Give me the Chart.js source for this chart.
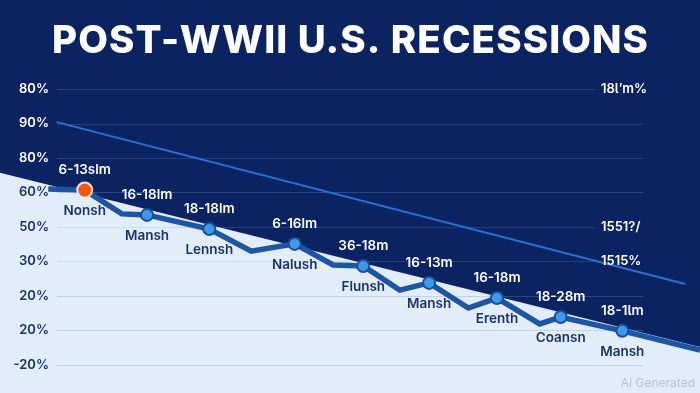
<!DOCTYPE html>
<html>
<head>
<meta charset="utf-8">
<script src="https://cdn.jsdelivr.net/npm/chart.js@4.4.1/dist/chart.umd.min.js"></script>
<style>
  html, body { margin: 0; padding: 0; background: #0b2562; }
  #wrap { position: relative; width: 700px; height: 393px; }
</style>
</head>
<body>
<div id="wrap"><canvas id="c" width="700" height="393"></canvas></div>
<script>
// ---- data ----
const titleText = 'POST-WWII U.S. RECESSIONS';
const yTickValues = [80, 70, 60, 50, 40, 30, 20, 10, 0];
const yTickLabels = ['80%', '90%', '80%', '60%', '50%', '30%', '20%', '20%', '-20%'];
const rightTickValues = [80, 40, 30];
const rightTickLabels = ['18Ɩ\u02BCm%', '1551?/', '1515%'];

const categories = ['Nonsh', 'Mansh', 'Lennsh', 'Nalush', 'Flunsh', 'Mansh', 'Erenth', 'Coansn', 'Mansh'];
const topLabels = ['6-13slm', '16-18lm', '18-18lm', '6-16lm', '36-18m', '16-13m', '16-18m', '18-28m', '18-1Ɩm'];
const markerX = [12.1, 21.0, 29.9, 42.1, 51.9, 61.3, 71.0, 80.1, 88.9];
const markerY = [50.7, 43.5, 39.4, 35.1, 28.7, 23.8, 19.4, 13.9, 9.9];

const pathX = [6.9, 12.1, 17.4, 21.0, 29.9, 35.9, 42.1, 47.6, 51.9, 57.1, 61.3, 66.9, 71.0, 77.1, 80.1, 88.9, 100];
const pathY = [51.0, 50.7, 43.8, 43.5, 39.4, 33.0, 35.1, 29.0, 28.7, 21.7, 23.8, 16.5, 19.4, 11.9, 13.9, 9.9, 4.3];

const trendX = [8.1, 97.9];
const trendY = [70.4, 23.5];

const areaX = [0, 100];
const areaY = [55.7, 5.2];

const gridFrom = 8.1, gridTo = 91.9, gridToShort = 85.0;

const zip = (xs, ys) => xs.map((x, i) => ({ x, y: ys[i] }));

const COLORS = {
  bg: '#0b2461',
  light: '#e3ecf9',
  line: '#1d55a3',
  trend: '#2b6fd6',
  marker: '#3d9ae8',
  red: '#f25a12',
  darkText: '#1a3466',
  white: '#ffffff'
};

const overlay = {
  id: 'overlay',
  beforeDraw(chart) {
    const { ctx, width, height } = chart;
    ctx.save();
    ctx.fillStyle = COLORS.bg;
    ctx.fillRect(0, 0, width, height);
    ctx.restore();
  },
  afterDatasetDraw(chart, args) {
    if (args.index !== 0) return;
    const { ctx, scales: { x, y } } = chart;
    ctx.save();
    ctx.lineWidth = 1;
    yTickValues.forEach(v => {
      const py = Math.round(y.getPixelForValue(v)) + 0.5;
      const end = rightTickValues.includes(v) ? gridToShort : gridTo;
      ctx.strokeStyle = v >= 60 || (v >= 30 && v <= 40) ? 'rgba(120,160,220,0.22)' : 'rgba(110,150,210,0.3)';
      ctx.beginPath();
      ctx.moveTo(x.getPixelForValue(gridFrom), py);
      ctx.lineTo(x.getPixelForValue(end), py);
      ctx.stroke();
    });
    ctx.restore();
  },
  afterDraw(chart) {
    const { ctx, scales: { x, y } } = chart;
    ctx.save();
    // title
    const size = 38.5;
    ctx.font = `800 ${size}px Inter`;
    const w = ctx.measureText(titleText).width;
    const spacing = Math.max(0, (596 - w) / (titleText.length - 1));
    if ('letterSpacing' in ctx) ctx.letterSpacing = spacing + 'px';
    ctx.fillStyle = COLORS.white;
    ctx.textAlign = 'left';
    ctx.textBaseline = 'alphabetic';
    ctx.fillText(titleText, 52, 53);
    if ('letterSpacing' in ctx) ctx.letterSpacing = '0px';

    // left ticks
    ctx.font = '600 13px Inter';
    ctx.textAlign = 'right';
    ctx.textBaseline = 'middle';
    yTickValues.forEach((v, i) => {
      ctx.fillStyle = v >= 60 ? COLORS.white : COLORS.darkText;
      ctx.fillText(yTickLabels[i], 49, y.getPixelForValue(v));
    });
    // right ticks
    ctx.textAlign = 'left';
    ctx.fillStyle = COLORS.white;
    rightTickValues.forEach((v, i) => {
      ctx.fillText(rightTickLabels[i], 601, y.getPixelForValue(v));
    });

    // point labels
    ctx.textAlign = 'center';
    ctx.font = '600 13.5px Inter';
    markerX.forEach((mx, i) => {
      const px = x.getPixelForValue(mx);
      const py = y.getPixelForValue(markerY[i]);
      ctx.fillStyle = COLORS.white;
      ctx.fillText(topLabels[i], px, py - 20);
      ctx.fillStyle = COLORS.darkText;
      ctx.fillText(categories[i], px, py + 21);
    });

    // watermark
    ctx.font = '400 12px Inter';
    ctx.textAlign = 'right';
    ctx.fillStyle = '#b7c2d2';
    ctx.fillText('AI Generated', 695, 383);
    ctx.restore();
  }
};

new Chart(document.getElementById('c'), {
  type: 'line',
  data: {
    datasets: [
      {
        data: zip(areaX, areaY),
        borderColor: COLORS.light,
        borderWidth: 0,
        backgroundColor: COLORS.light,
        fill: 'start',
        pointRadius: 0,
        tension: 0,
        order: 4
      },
      {
        data: zip(trendX, trendY),
        borderColor: COLORS.trend,
        borderWidth: 2,
        fill: false,
        pointRadius: 0,
        order: 3
      },
      {
        data: zip(pathX, pathY),
        borderColor: COLORS.line,
        borderWidth: 5.5,
        borderJoinStyle: 'miter',
        fill: false,
        pointRadius: 0,
        order: 2
      },
      {
        data: zip(markerX, markerY),
        showLine: false,
        pointRadius: markerX.map((_, i) => i === 0 ? 7.5 : 6),
        pointBackgroundColor: markerX.map((_, i) => i === 0 ? COLORS.red : COLORS.marker),
        pointBorderColor: markerX.map((_, i) => i === 0 ? '#f7e3da' : '#1a4f9c'),
        pointBorderWidth: 2,
        order: 1
      }
    ]
  },
  options: {
    responsive: false,
    animation: false,
    events: [],
    layout: { padding: 0, autoPadding: false },
    plugins: { legend: { display: false }, title: { display: false }, tooltip: { enabled: false } },
    scales: {
      x: { type: 'linear', min: 0, max: 100, display: false },
      y: { type: 'linear', min: -8.12, max: 105.8, display: false }
    }
  },
  plugins: [overlay]
});
</script>
</body>
</html>
